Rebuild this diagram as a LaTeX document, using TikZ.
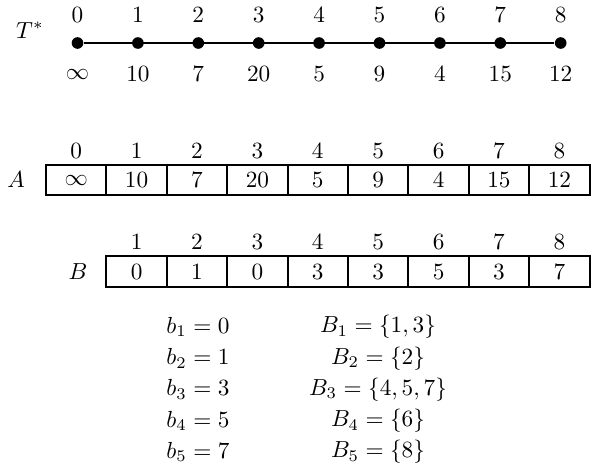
\documentclass[tikz,border=0pt]{standalone}
\usepackage{amsmath}
\usepackage{amssymb}
\usepackage{tikz}
\usetikzlibrary{arrows.meta}

\begin{document}
\begin{tikzpicture}[
    x=0.43pt, y=-0.43pt,
    punt/.style={circle, fill=black, inner sep=0pt, minimum size=5pt},
    cella/.style={draw, thick, minimum width=26pt, minimum height=13pt,
        inner sep=0pt, outer sep=0pt}
]

    \useasboundingbox (0,0) rectangle (597,467);

    % Arbre T*
    \node (tlab) at (30,30) {$T^*$};
    \foreach \v [count=\i from 0] in {\infty,10,7,20,5,9,4,15,12} {
        \node[punt] (t\i) at (77.5+60.4*\i,43) {};
        \node (ti\i) at (77.5+60.4*\i,15) {$\i$};
        \node (tv\i) at (77.5+60.4*\i,74) {$\v$};
    }
    \draw[
        thick,
        black
    ] (t0) -- (t8);

    % Vector A
    \node (alab) at (16,180) {$A$};
    \foreach \v [count=\i from 0] in {\infty,10,7,20,5,9,4,15,12} {
        \node[cella] (a\i) at (76.2+60.4*\i,180) {$\v$};
        \node (ai\i) at (76.2+60.4*\i,151) {$\i$};
    }

    % Vector B
    \node (blab) at (78,272) {$B$};
    \foreach \v [count=\i] in {0,1,0,3,3,5,3,7} {
        \node[cella] (b\i) at (76.2+60.4*\i,271.5) {$\v$};
        \node (bi\i) at (76.2+60.4*\i,242) {$\i$};
    }

    % Blocs
    \foreach \m/\s [count=\i] in {0/{1,3},1/{2},3/{4,5,7},5/{6},7/{8}} {
        \node (bm\i) at (198,295.75+31.25*\i) {$b_\i=\m$};
        \node (bs\i) at (378,295.75+31.25*\i) {$B_\i=\{\s\}$};
    }

\end{tikzpicture}
\end{document}
